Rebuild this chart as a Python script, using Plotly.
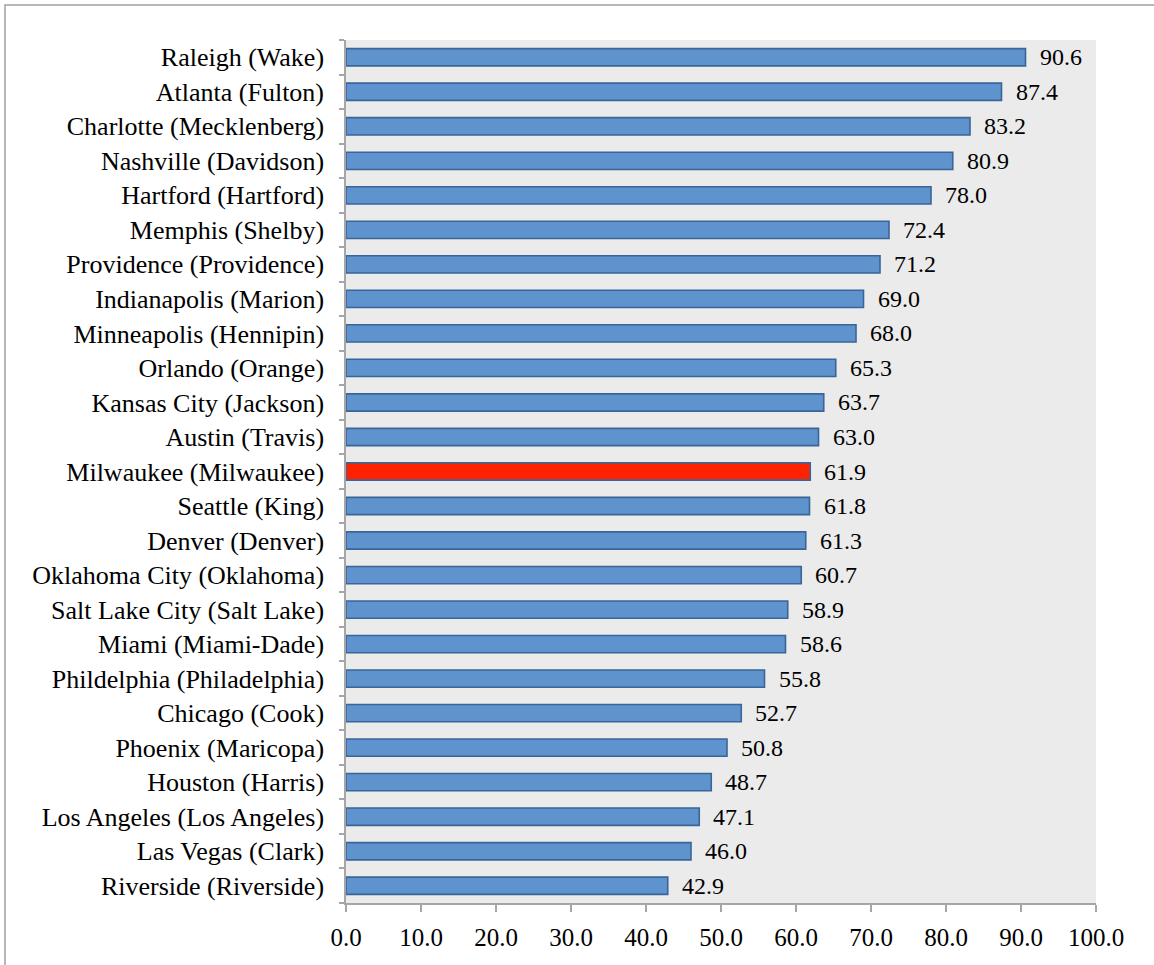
import plotly.graph_objects as go

categories = [
    "Raleigh (Wake)", "Atlanta (Fulton)", "Charlotte (Mecklenberg)", "Nashville (Davidson)",
    "Hartford (Hartford)", "Memphis (Shelby)", "Providence (Providence)", "Indianapolis (Marion)",
    "Minneapolis (Hennipin)", "Orlando (Orange)", "Kansas City (Jackson)", "Austin (Travis)",
    "Milwaukee (Milwaukee)", "Seattle (King)", "Denver (Denver)", "Oklahoma City (Oklahoma)",
    "Salt Lake City (Salt Lake)", "Miami (Miami-Dade)", "Phildelphia (Philadelphia)",
    "Chicago (Cook)", "Phoenix (Maricopa)", "Houston (Harris)", "Los Angeles (Los Angeles)",
    "Las Vegas (Clark)", "Riverside (Riverside)",
]
values = [90.6, 87.4, 83.2, 80.9, 78.0, 72.4, 71.2, 69.0, 68.0, 65.3, 63.7, 63.0,
          61.9, 61.8, 61.3, 60.7, 58.9, 58.6, 55.8, 52.7, 50.8, 48.7, 47.1, 46.0, 42.9]
highlight = "Milwaukee (Milwaukee)"
x_ticks = [0, 10, 20, 30, 40, 50, 60, 70, 80, 90, 100]

BLUE = "#5E93CD"
RED = "#FF2200"
EDGE = "#3A6598"
FONT = "Liberation Serif"

colors = [RED if c == highlight else BLUE for c in categories]

fig = go.Figure()
fig.add_trace(go.Bar(
    y=categories, x=values, orientation="h",
    marker=dict(color=colors, line=dict(color=EDGE, width=1.6)),
    width=0.5, hoverinfo="x+y",
))

for c, v in zip(categories, values):
    fig.add_annotation(x=v, y=c, text=f"{v:.1f}", showarrow=False,
                       xanchor="left", yanchor="middle", xshift=12,
                       font=dict(family=FONT, size=24, color="#000000"))

L, R, T, B = 346, 58, 40, 62
W, H = 1154, 965
pw, ph = W - L - R, H - T - B

fig.update_layout(
    width=W, height=H,
    margin=dict(l=L, r=R, t=T, b=B, pad=0),
    paper_bgcolor="#FFFFFF", plot_bgcolor="#EBEBEB",
    showlegend=False,
    font=dict(family=FONT, size=25, color="#000000"),
    xaxis=dict(range=[0, 100], tickvals=x_ticks,
               ticktext=[f"{t:.1f}" for t in x_ticks],
               showgrid=False, zeroline=False, showline=True,
               linecolor="#A6A6A6", linewidth=1.5,
               ticks="outside", ticklen=7, tickcolor="#A6A6A6", tickwidth=1.5,
               ticklabelstandoff=4,
               tickfont=dict(family=FONT, size=25, color="#000000")),
    yaxis=dict(categoryorder="array", categoryarray=categories[::-1],
               autorange=False, range=[-0.5, len(categories) - 0.5],
               showgrid=False, zeroline=False, showline=True,
               linecolor="#A6A6A6", linewidth=1.5,
               ticks="outside", ticklen=5, tickcolor="#A6A6A6", tickwidth=1.5,
               tickson="boundaries", ticklabelstandoff=15,
               tickfont=dict(family=FONT, size=26, color="#000000")),
    shapes=[dict(type="rect", xref="paper", yref="paper",
                 x0=(5 - L) / pw, x1=(W + 10 - L) / pw,
                 y0=-(H + 10 - (H - B)) / ph, y1=(H - B - 5) / ph,
                 line=dict(color="#A0A0A0", width=1.5), fillcolor="rgba(0,0,0,0)",
                 layer="below")],
)

fig.write_html("out.html", config={"displayModeBar": False},
               post_script="document.body.style.margin='0';document.body.style.overflow='hidden';")
